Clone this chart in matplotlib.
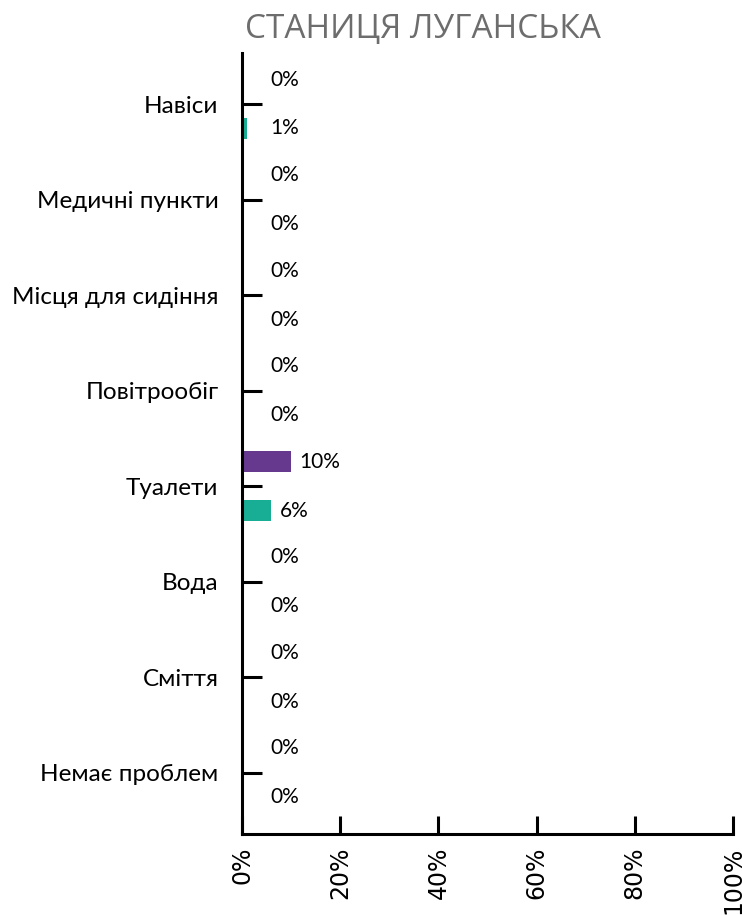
import matplotlib
matplotlib.use("Agg")
import matplotlib.pyplot as plt
from matplotlib.ticker import FixedLocator

categories = ["Навіси", "Медичні пункти", "Місця для сидіння", "Повітрообіг",
              "Туалети", "Вода", "Сміття", "Немає проблем"]
series_purple = [0, 0, 0, 0, 10, 0, 0, 0]
series_teal = [1, 0, 0, 0, 6, 0, 0, 0]
xticks = [0, 20, 40, 60, 80, 100]
xticklabels = ["0%", "20%", "40%", "60%", "80%", "100%"]
title = "СТАНИЦЯ ЛУГАНСЬКА"

purple = "#66398F"
teal = "#17AE95"
label_font = ["Lato", "DejaVu Sans"]

fig = plt.figure(figsize=(7.42, 9.15), dpi=100)
ax = fig.add_axes([242/742, 1-834/915, (733-242)/742, (834-53)/915])

ys = list(range(len(categories)))
off = 0.255
h = 0.22
ax.barh([y - off for y in ys], series_purple, height=h, color=purple)
ax.barh([y + off for y in ys], series_teal, height=h, color=teal)

ax.set_xlim(0, 100)
ax.set_ylim(7.64, -0.535)

for y, v in zip(ys, series_purple):
    ax.annotate(f"{v}%", (max(v, 4.07), y - off), xytext=(6, 0), textcoords="offset points",
                ha="left", va="center", fontsize=15, family=label_font)
for y, v in zip(ys, series_teal):
    ax.annotate(f"{v}%", (max(v, 4.07), y + off), xytext=(6, 0), textcoords="offset points",
                ha="left", va="center", fontsize=15, family=label_font)

ax.set_yticks(ys)
ax.set_yticklabels(categories, fontsize=17.5, family=label_font)
ax.xaxis.set_major_locator(FixedLocator(xticks))
ax.set_xticklabels(xticklabels, rotation=90, fontsize=17, family="DejaVu Sans")

ax.tick_params(axis="y", direction="in", length=14.4, width=2.2, pad=17, color="black")
ax.tick_params(axis="x", direction="in", length=13, width=2.2, pad=9, color="black")

for s in ["top", "right"]:
    ax.spines[s].set_visible(False)
for s in ["left", "bottom"]:
    ax.spines[s].set_linewidth(2.2)
    ax.spines[s].set_color("black")

fig.text(0.570, 1-38/915, title, ha="center", va="baseline", fontsize=24,
         family=["Open Sans", "DejaVu Sans"], color="#6d6d6d")

fig.savefig("out.png", dpi=100)
